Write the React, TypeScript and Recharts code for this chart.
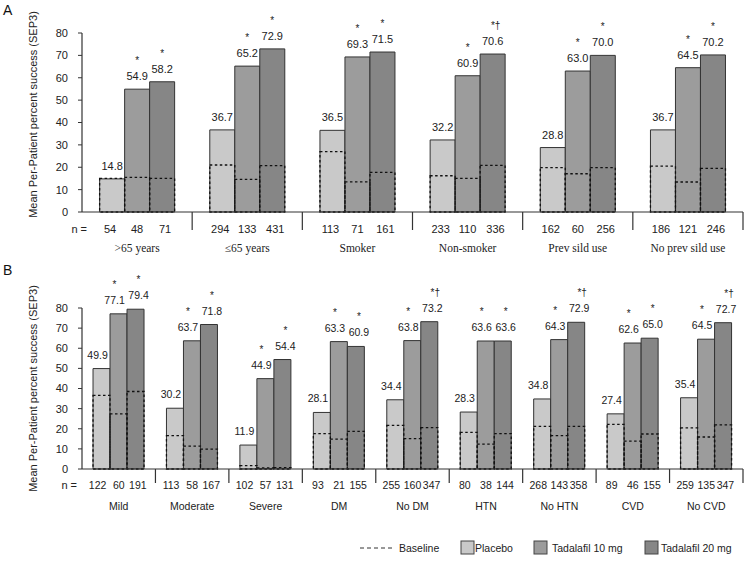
import React from 'react';
import { BarChart, Bar, XAxis, YAxis, LabelList } from 'recharts';

// ---------- Panel A data ----------
const categoriesA = ['>65 years', '\u226465 years', 'Smoker', 'Non-smoker', 'Prev sild use', 'No prev sild use'];
const placeboA = [14.8, 36.7, 36.5, 32.2, 28.8, 36.7];
const tad10A = [54.9, 65.2, 69.3, 60.9, 63.0, 64.5];
const tad20A = [58.2, 72.9, 71.5, 70.6, 70.0, 70.2];
const basePlaceboA = [15.0, 21.0, 27.0, 16.2, 19.8, 20.5];
const base10A = [15.5, 14.6, 13.5, 15.0, 17.1, 13.4];
const base20A = [15.0, 20.7, 17.7, 20.8, 19.8, 19.5];
const nPlaceboA = [54, 294, 113, 233, 162, 186];
const n10A = [48, 133, 71, 110, 60, 121];
const n20A = [71, 431, 161, 336, 256, 246];
const sig10A = ['*', '*', '*', '*', '*', '*'];
const sig20A = ['*', '*', '*', '*\u2020', '*', '*'];

// ---------- Panel B data ----------
const categoriesB = ['Mild', 'Moderate', 'Severe', 'DM', 'No DM', 'HTN', 'No HTN', 'CVD', 'No CVD'];
const placeboB = [49.9, 30.2, 11.9, 28.1, 34.4, 28.3, 34.8, 27.4, 35.4];
const tad10B = [77.1, 63.7, 44.9, 63.3, 63.8, 63.6, 64.3, 62.6, 64.5];
const tad20B = [79.4, 71.8, 54.4, 60.9, 73.2, 63.6, 72.9, 65.0, 72.7];
const basePlaceboB = [36.6, 16.6, 1.7, 17.6, 21.7, 18.2, 21.2, 22.2, 20.4];
const base10B = [27.4, 11.4, 0.5, 14.8, 15.1, 12.4, 16.6, 13.9, 15.9];
const base20B = [38.5, 9.9, 0.7, 18.7, 20.6, 17.6, 21.2, 17.4, 21.9];
const nPlaceboB = [122, 113, 102, 93, 255, 80, 268, 89, 259];
const n10B = [60, 58, 57, 21, 160, 38, 143, 46, 135];
const n20B = [191, 167, 131, 155, 347, 144, 358, 155, 347];
const sig10B = ['*', '*', '*', '*', '*', '*', '*', '*', '*'];
const sig20B = ['*', '*', '*', '*', '*\u2020', '*', '*\u2020', '*', '*\u2020'];

const yTicks = [0, 10, 20, 30, 40, 50, 60, 70, 80];
const yLabel = 'Mean Per-Patient percent success (SEP3)';
const legendItems = ['Baseline', 'Placebo', 'Tadalafil 10 mg', 'Tadalafil 20 mg'];

const SANS = "'Liberation Sans', Arial, sans-serif";
const SERIF = "'Liberation Serif', 'Times New Roman', serif";
const C_PLACEBO = '#c9c9c9';
const C_10 = '#9c9c9c';
const C_20 = '#868686';
const C_LINE = '#333';

function buildRows(cats: string[], p: number[], t10: number[], t20: number[], bp: number[], b10: number[], b20: number[]) {
  return cats.map((c, i) => ({
    cat: c,
    placebo: p[i],
    tad10: t10[i],
    tad20: t20[i],
    basePlacebo: bp[i],
    base10: b10[i],
    base20: b20[i],
  }));
}

const rowsA = buildRows(categoriesA, placeboA, tad10A, tad20A, basePlaceboA, base10A, base20A);
const rowsB = buildRows(categoriesB, placeboB, tad10B, tad20B, basePlaceboB, base10B, base20B);

const makeLabel = (sigs: string[] | null, valOff: number, starOff: number, shift: number, fs: number) => (props: any) => {
  const { x, y, width, value, index } = props;
  const cx = Number(x) + Number(width) / 2 + shift;
  const top = Number(y);
  return (
    <g>
      <text x={cx} y={top - valOff} textAnchor="middle" fontSize={fs} fontFamily={SANS} fill="#222">
        {Number(value).toFixed(1)}
      </text>
      {sigs && sigs[index] ? (
        <text x={cx + (sigs[index].length > 1 ? 3 : 0)} y={top - starOff} textAnchor="middle" fontSize={10} fontFamily={SANS} fill="#222">
          {sigs[index]}
        </text>
      ) : null}
    </g>
  );
};

type TickOpts = {
  nP: number[];
  n10: number[];
  n20: number[];
  count: number;
  gap: number;
  sepLen: number;
  nDy: number;
  catDy: number;
  nEqX: number;
  catFont: string;
  catSize: number;
  nSize: number;
  nShift: number[];
  fallbackHalf: number;
};

const makeTick = (o: TickOpts) => (props: any) => {
  const { x, y, payload } = props;
  const idx: number = payload.index;
  const half: number = typeof payload.offset === 'number' && payload.offset > 0 ? payload.offset : o.fallbackHalf;
  const barW = (2 * half * (1 - 2 * o.gap)) / 3;
  const left = x - half;
  const right = x + half;
  const nStyle = { fontSize: o.nSize, fontFamily: SANS, fill: '#222' } as const;
  return (
    <g>
      {idx > 0 ? <line x1={left} x2={left} y1={y} y2={y + o.sepLen} stroke={C_LINE} strokeWidth={1.2} /> : null}
      {idx === o.count - 1 ? <line x1={right} x2={right} y1={y} y2={y + o.sepLen} stroke={C_LINE} strokeWidth={1.2} /> : null}
      {idx === 0 ? (
        <text x={left + o.nEqX} y={y + o.nDy} textAnchor="end" fontSize={11} fontFamily={SANS} fill="#222">n =</text>
      ) : null}
      <text x={x - barW + o.nShift[0]} y={y + o.nDy} textAnchor="middle" {...nStyle}>{o.nP[idx]}</text>
      <text x={x + o.nShift[1]} y={y + o.nDy} textAnchor="middle" {...nStyle}>{o.n10[idx]}</text>
      <text x={x + barW + o.nShift[2]} y={y + o.nDy} textAnchor="middle" {...nStyle}>{o.n20[idx]}</text>
      <text x={x} y={y + o.catDy} textAnchor="middle" fontSize={o.catSize} fontFamily={o.catFont} fill="#222">
        {payload.value}
      </text>
    </g>
  );
};

const yLabelContent = (dy: number) => (props: any) => {
  const vb = props.viewBox || {};
  const cx = 33;
  const cy = Number(vb.y) + Number(vb.height) / 2 + dy;
  return (
    <text x={cx} y={cy} transform={`rotate(-90 ${cx} ${cy})`} textAnchor="middle" dominantBaseline="central" fontSize={11} fontFamily={SANS} fill="#222">
      {yLabel}
    </text>
  );
};

type PanelProps = {
  rows: any[];
  height: number;
  top: number;
  xHeight: number;
  gap: number;
  sig10: string[];
  sig20: string[];
  tick: (p: any) => React.ReactElement;
  labelDy: number;
  valOff: number;
  starOff: number;
  shifts: number[];
  fs: number;
};

function Panel(p: PanelProps) {
  return (
    <BarChart
      width={750}
      height={p.height}
      data={p.rows}
      margin={{ top: p.top, right: 7, bottom: 0, left: 0 }}
      barCategoryGap={`${p.gap * 100}%`}
      barGap={0}
    >
      <XAxis
        dataKey="cat"
        height={p.xHeight}
        interval={0}
        tickLine={false}
        tickSize={0}
        tickMargin={0}
        axisLine={{ stroke: C_LINE, strokeWidth: 1.2 }}
        tick={p.tick}
      />
      <XAxis xAxisId="base" dataKey="cat" hide />
      <YAxis
        width={82}
        domain={[0, 80]}
        ticks={yTicks}
        interval={0}
        tickSize={4}
        tickMargin={10}
        axisLine={{ stroke: C_LINE, strokeWidth: 1.2 }}
        tickLine={{ stroke: C_LINE }}
        tick={{ fontSize: 11, fontFamily: SANS, fill: '#222' }}
        label={{ content: yLabelContent(p.labelDy) } as any}
      />
      <Bar dataKey="placebo" fill={C_PLACEBO} stroke={C_LINE} strokeWidth={1} isAnimationActive={false}>
        <LabelList dataKey="placebo" content={makeLabel(null, p.valOff, p.starOff, p.shifts[0], p.fs)} />
      </Bar>
      <Bar dataKey="tad10" fill={C_10} stroke={C_LINE} strokeWidth={1} isAnimationActive={false}>
        <LabelList dataKey="tad10" content={makeLabel(p.sig10, p.valOff, p.starOff, p.shifts[1], p.fs)} />
      </Bar>
      <Bar dataKey="tad20" fill={C_20} stroke={C_LINE} strokeWidth={1} isAnimationActive={false}>
        <LabelList dataKey="tad20" content={makeLabel(p.sig20, p.valOff, p.starOff, p.shifts[2], p.fs)} />
      </Bar>
      <Bar xAxisId="base" dataKey="basePlacebo" fill="none" stroke="#111" strokeWidth={1.3} strokeDasharray="2.5 2.5" isAnimationActive={false} />
      <Bar xAxisId="base" dataKey="base10" fill="none" stroke="#111" strokeWidth={1.3} strokeDasharray="2.5 2.5" isAnimationActive={false} />
      <Bar xAxisId="base" dataKey="base20" fill="none" stroke="#111" strokeWidth={1.3} strokeDasharray="2.5 2.5" isAnimationActive={false} />
    </BarChart>
  );
}

const tickA = makeTick({
  nP: nPlaceboA, n10: n10A, n20: n20A, count: categoriesA.length, gap: 0.16,
  sepLen: 18, nDy: 21, catDy: 40, nEqX: 5, catFont: SERIF, catSize: 11.5, nSize: 11, nShift: [-2, 0, 3],
  fallbackHalf: 661 / 6 / 2,
});
const tickB = makeTick({
  nP: nPlaceboB, n10: n10B, n20: n20B, count: categoriesB.length, gap: 0.15,
  sepLen: 14, nDy: 20, catDy: 41, nEqX: -5, catFont: SANS, catSize: 10.5, nSize: 10.5, nShift: [-4, 0, 2],
  fallbackHalf: 661 / 9 / 2,
});

function Legend() {
  const swatches = [
    { x: 461, fill: C_PLACEBO, tx: 475, label: legendItems[1] },
    { x: 534, fill: C_10, tx: 552, label: legendItems[2] },
    { x: 645, fill: C_20, tx: 661, label: legendItems[3] },
  ];
  return (
    <svg width={750} height={40} style={{ position: 'absolute', left: 0, top: 530 }}>
      <line x1={360} x2={392} y1={18} y2={18} stroke="#333" strokeWidth={1} strokeDasharray="4 3" />
      <text x={399} y={22} fontSize={10.5} fontFamily={SANS} fill="#222">{legendItems[0]}</text>
      {swatches.map((s) => (
        <g key={s.label}>
          <rect x={s.x} y={11} width={13} height={13} fill={s.fill} stroke="#444" strokeWidth={1} />
          <text x={s.tx} y={22} fontSize={10.5} fontFamily={SANS} fill="#222">{s.label}</text>
        </g>
      ))}
    </svg>
  );
}

export default function App() {
  return (
    <div style={{ position: 'absolute', left: 0, top: 0, width: 750, height: 565, background: '#fff', overflow: 'hidden' }}>
      <div style={{ position: 'absolute', left: 0, top: 0 }}>
        <Panel rows={rowsA} height={260} top={33} xHeight={48} gap={0.16} sig10={sig10A} sig20={sig20A} tick={tickA} labelDy={-8} valOff={9} starOff={25} shifts={[0, 0, 0]} fs={11} />
      </div>
      <div style={{ position: 'absolute', left: 0, top: 260 }}>
        <Panel rows={rowsB} height={260} top={48} xHeight={51} gap={0.15} sig10={sig10B} sig20={sig20B} tick={tickB} labelDy={0} valOff={10} starOff={26} shifts={[-4, -4, 3]} fs={10.5} />
      </div>
      <div style={{ position: 'absolute', left: 3, top: 3, fontSize: 14, lineHeight: '14px', fontFamily: SANS, color: '#111' }}>A</div>
      <div style={{ position: 'absolute', left: 3, top: 263, fontSize: 14, lineHeight: '14px', fontFamily: SANS, color: '#111' }}>B</div>
      <Legend />
    </div>
  );
}
